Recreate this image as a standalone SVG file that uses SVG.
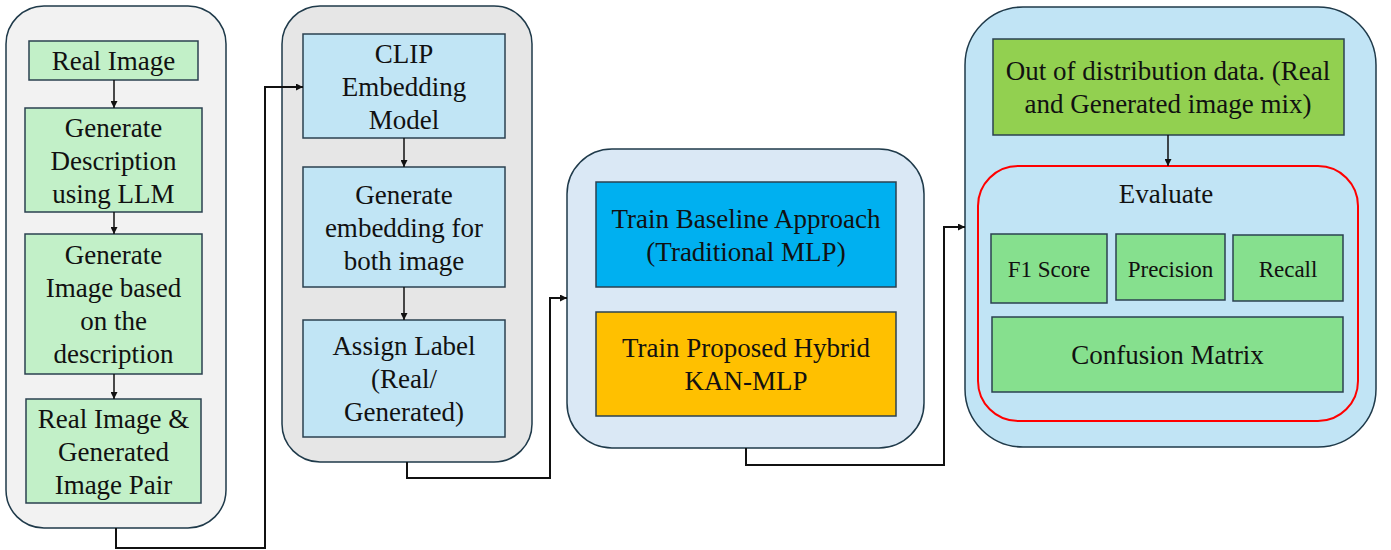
<svg xmlns="http://www.w3.org/2000/svg" width="1391" height="550" viewBox="0 0 1391 550">
  <defs>
    <marker id="arrow" viewBox="0 0 10 10" refX="10" refY="5" markerWidth="7" markerHeight="7" markerUnits="userSpaceOnUse" orient="auto">
      <path d="M0,0 L10,5 L0,10 z" fill="#111"/>
    </marker>
    <style>
      .panel { stroke: #1f3a4a; stroke-width: 1.5; }
      .box { stroke: #2b4150; stroke-width: 1.5; }
      .green { fill: #c2f0c8; }
      .blue { fill: #c1e5f5; }
      .metric { fill: #86e08e; }
      .conn { fill: none; stroke: #111; stroke-width: 2; }
      .step { fill: none; stroke: #111; stroke-width: 1.5; }
      text { font-family: 'Liberation Serif', 'DejaVu Serif', serif; font-size: 27px; fill: #111; text-anchor: middle; }
      .small { font-size: 23px; }
    </style>
  </defs>

  <rect width="1391" height="550" fill="#ffffff"/>

  <!-- Stage 1: data generation -->
  <g id="stage-data">
    <rect class="panel" x="6" y="6" width="220" height="522" rx="38" fill="#f2f2f2"/>
    <g id="real-image">
      <rect class="box green" x="29" y="41" width="169" height="39"/>
      <text x="113.5" y="70">Real Image</text>
    </g>
    <g id="gen-description">
      <rect class="box green" x="25" y="108" width="177" height="104"/>
      <text x="113.5" y="137">Generate</text>
      <text x="113.5" y="170">Description</text>
      <text x="113.5" y="203">using LLM</text>
    </g>
    <g id="gen-image">
      <rect class="box green" x="25" y="234" width="177" height="140"/>
      <text x="113.5" y="264">Generate</text>
      <text x="113.5" y="297">Image based</text>
      <text x="113.5" y="330">on the</text>
      <text x="113.5" y="363">description</text>
    </g>
    <g id="image-pair">
      <rect class="box green" x="26" y="399" width="175" height="104"/>
      <text x="113.5" y="428">Real Image &amp;</text>
      <text x="113.5" y="461">Generated</text>
      <text x="113.5" y="494">Image Pair</text>
    </g>
  </g>

  <!-- Stage 2: embedding and labelling -->
  <g id="stage-embedding">
    <rect class="panel" x="282" y="6" width="250" height="456" rx="38" fill="#e6e6e6"/>
    <g id="clip-model">
      <rect class="box blue" x="303" y="34" width="202" height="104"/>
      <text x="404" y="63">CLIP</text>
      <text x="404" y="96">Embedding</text>
      <text x="404" y="129">Model</text>
    </g>
    <g id="gen-embedding">
      <rect class="box blue" x="303" y="167" width="202" height="120"/>
      <text x="404" y="204">Generate</text>
      <text x="404" y="237">embedding for</text>
      <text x="404" y="270">both image</text>
    </g>
    <g id="assign-label">
      <rect class="box blue" x="303" y="320" width="202" height="117"/>
      <text x="404" y="355">Assign Label</text>
      <text x="404" y="388">(Real/</text>
      <text x="404" y="421">Generated)</text>
    </g>
  </g>

  <!-- Stage 3: training -->
  <g id="stage-training">
    <rect class="panel" x="567" y="149" width="357" height="299" rx="45" fill="#dae8f5"/>
    <g id="train-baseline">
      <rect class="box" x="596" y="182" width="300" height="105" fill="#00b0f0"/>
      <text x="746" y="228">Train Baseline Approach</text>
      <text x="746" y="261">(Traditional MLP)</text>
    </g>
    <g id="train-hybrid">
      <rect class="box" x="596" y="312" width="300" height="104" fill="#ffc000"/>
      <text x="746" y="357">Train Proposed Hybrid</text>
      <text x="746" y="390">KAN-MLP</text>
    </g>
  </g>

  <!-- Stage 4: evaluation -->
  <g id="stage-evaluation">
    <rect class="panel" x="965" y="7" width="411" height="440" rx="58" fill="#c1e4f5"/>
    <g id="ood-data">
      <rect class="box" x="993" y="39" width="351" height="96" fill="#92d050"/>
      <text x="1168" y="80">Out of distribution data. (Real</text>
      <text x="1168" y="113">and Generated image mix)</text>
    </g>
    <g id="evaluate">
      <rect x="978" y="166" width="380" height="255" rx="40" fill="none" stroke="#ff0000" stroke-width="2"/>
      <text x="1166" y="203">Evaluate</text>
    </g>
    <g id="f1-score">
      <rect class="box metric" x="991" y="234" width="116" height="69"/>
      <text class="small" x="1049" y="277">F1 Score</text>
    </g>
    <g id="precision">
      <rect class="box metric" x="1116" y="234" width="109" height="66"/>
      <text class="small" x="1170.5" y="277">Precision</text>
    </g>
    <g id="recall">
      <rect class="box metric" x="1233" y="235" width="110" height="66"/>
      <text class="small" x="1288" y="277">Recall</text>
    </g>
    <g id="confusion-matrix">
      <rect class="box metric" x="992" y="317" width="351" height="75"/>
      <text x="1167.5" y="364">Confusion Matrix</text>
    </g>
  </g>

  <!-- Connectors -->
  <g id="connectors">
    <line class="step" x1="114" y1="80" x2="114" y2="108" marker-end="url(#arrow)"/>
    <line class="step" x1="114" y1="212" x2="114" y2="234" marker-end="url(#arrow)"/>
    <line class="step" x1="114" y1="374" x2="114" y2="399" marker-end="url(#arrow)"/>
    <line class="step" x1="404" y1="138" x2="404" y2="167" marker-end="url(#arrow)"/>
    <line class="step" x1="404" y1="287" x2="404" y2="320" marker-end="url(#arrow)"/>
    <line class="step" x1="1168" y1="135" x2="1168" y2="166" stroke="#1f3a4a" marker-end="url(#arrow)"/>
    <path class="conn" d="M116,528 V548 H265 V87 H303" marker-end="url(#arrow)"/>
    <path class="conn" d="M407,462 V478 H550 V298 H567" marker-end="url(#arrow)"/>
    <path class="conn" d="M746,448 V465 H944 V227 H965" marker-end="url(#arrow)"/>
  </g>
</svg>
